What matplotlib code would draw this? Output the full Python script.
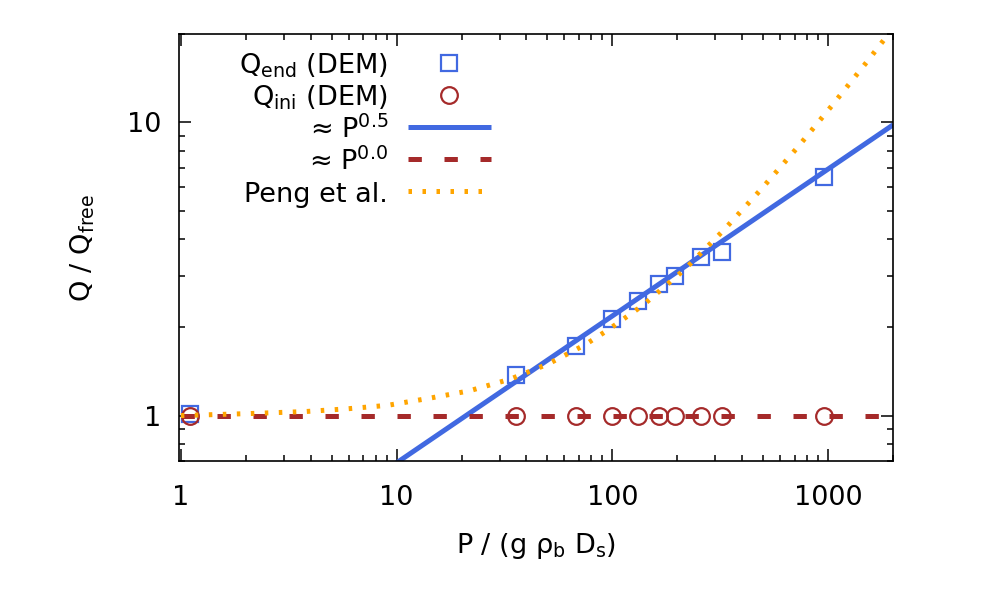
import matplotlib
matplotlib.use('Agg')
import matplotlib.pyplot as plt
from matplotlib.ticker import LogLocator, NullFormatter, FuncFormatter

# DEM runs: confining pressure and discharge ratio
p_dem = [1.1, 35.8, 67.7, 100, 131, 164, 196, 258, 323, 955]
q_end = [1.01, 1.38, 1.725, 2.14, 2.46, 2.82, 2.99, 3.46, 3.60, 6.52]
q_ini = [1.0, 1.0, 1.0, 1.0, 1.0, 1.0, 1.0, 1.0, 1.0, 1.0]

# power-law guides (end points)
fit05_p = [10, 2000]
fit05_q = [0.69, 9.8]
fit00_p = [1, 2000]
fit00_q = [1.0, 1.0]

# Peng et al. curve, sampled from the figure
peng_p = [1.0, 2.09, 3.77, 5.86, 9.11, 14.2, 21.7, 33.6, 50.2, 74.8, 95.9,
          138.5, 216, 328, 490, 722, 1050, 1517, 1820, 2000]
peng_q = [1.0, 1.016, 1.032, 1.054, 1.084, 1.146, 1.214, 1.331, 1.497, 1.744,
          1.963, 2.376, 3.146, 4.286, 5.917, 8.215, 11.48, 16.11, 19.15, 20.9]

labels = [r'$Q_{end}$ (DEM)', r'$Q_{ini}$ (DEM)', r'≈ $P^{0.5}$',
          r'≈ $P^{0.0}$', 'Peng et al.']

BLUE = '#4169E1'
BROWN = '#A52A2A'
ORANGE = '#FFA500'
LW = 3.6

plt.rcParams['font.family'] = 'DejaVu Sans'
plt.rcParams['mathtext.default'] = 'regular'
plt.rcParams['font.size'] = 19.5

fig = plt.figure(figsize=(9.97, 5.98), dpi=100)
ax = fig.add_axes([0.1795, 0.2291, 0.7162, 0.7140])

sq_style = dict(marker='s', ms=11, mfc='none', mec=BLUE, mew=1.6, ls='none')
ci_style = dict(marker='o', ms=12, mfc='none', mec=BROWN, mew=1.6, ls='none')
l05_style = dict(color=BLUE, lw=LW, solid_capstyle='butt')
l00_style = dict(color=BROWN, lw=LW, ls=(0, (2.67, 4.53)))
peng_style = dict(color=ORANGE, lw=LW, ls=(0, (0.7, 2.1)))

ax.plot(p_dem, q_end, **sq_style)
ax.plot(p_dem, q_ini, **ci_style)
ax.plot(fit05_p, fit05_q, **l05_style)
ax.plot(fit00_p, fit00_q, **l00_style)
ax.plot(peng_p, peng_q, **peng_style)

ax.set_xscale('log')
ax.set_yscale('log')
ax.set_xlim(0.98, 2000)
ax.set_ylim(0.7, 20)

ax.xaxis.set_major_locator(LogLocator(base=10, numticks=10))
ax.yaxis.set_major_locator(LogLocator(base=10, numticks=10))
ax.xaxis.set_minor_locator(LogLocator(base=10, subs=range(2, 10), numticks=20))
ax.yaxis.set_minor_locator(LogLocator(base=10, subs=range(2, 10), numticks=20))
plain = FuncFormatter(lambda v, pos: '%g' % v)
ax.xaxis.set_major_formatter(plain)
ax.yaxis.set_major_formatter(plain)
ax.xaxis.set_minor_formatter(NullFormatter())
ax.yaxis.set_minor_formatter(NullFormatter())

ax.tick_params(which='both', direction='in', top=True, right=True, width=1.1)
ax.tick_params(which='major', length=8.4, labelsize=19.5)
ax.tick_params(which='minor', length=4.5)
ax.tick_params(axis='x', which='major', pad=17)
ax.tick_params(axis='y', which='major', pad=13)
for s in ax.spines.values():
    s.set_linewidth(1.2)

ax.set_xlabel(r'P / (g $ρ_b$ $D_s$)', labelpad=15)
ax.set_ylabel(r'Q / $Q_{free}$', labelpad=21)

# gnuplot-like key: right aligned text, sample on the right
rows = [0.932, 0.857, 0.782, 0.707, 0.632]
tx, hx0, hx1, mx = 0.2927, 0.3207, 0.437, 0.378
styles = [sq_style, ci_style, l05_style, l00_style, peng_style]
for i, (lab, st) in enumerate(zip(labels, styles)):
    y = rows[i]
    ax.text(tx, y - 0.0246, lab, ha='right', va='baseline',
            transform=ax.transAxes)
    if 'marker' in st:
        ax.plot([mx], [y], transform=ax.transAxes, clip_on=False, **st)
    else:
        ax.plot([hx0, hx1], [y, y], transform=ax.transAxes, clip_on=False, **st)

fig.savefig('out.png', dpi=100)
